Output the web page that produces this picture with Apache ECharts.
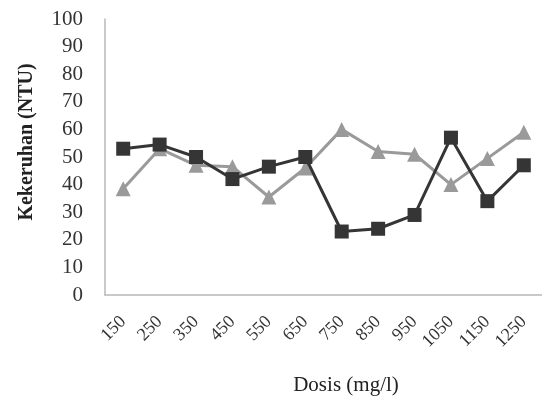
<!DOCTYPE html>
<html><head><meta charset="utf-8">
<script src="https://cdn.jsdelivr.net/npm/echarts@6/dist/echarts.min.js"></script>
<style>html,body{margin:0;padding:0;background:#fff}#c{width:542px;height:401px}</style>
</head><body><div id="c"></div>
<script>
const categories = ['150','250','350','450','550','650','750','850','950','1050','1150','1250'];
const seriesSquare = [53, 54.5, 50, 42, 46.5, 50, 23, 24, 29, 57, 34, 47];
const seriesTriangle = [38.5, 53, 47, 46.5, 35.5, 46, 60, 52, 51, 40, 49.5, 59];
const yTicks = {min: 0, max: 100, interval: 10};

const chart = echarts.init(document.getElementById('c'), null, {renderer: 'canvas'});
const font = 'Liberation Serif';
chart.setOption({
  animation: false,
  backgroundColor: '#fff',
  grid: {left: 105, right: -7, top: 19, bottom: 106, containLabel: false},
  xAxis: {
    type: 'category', data: categories, boundaryGap: true,
    axisLine: {lineStyle: {color: '#b8b8b8', width: 1.5}},
    axisTick: {show: false},
    axisLabel: {rotate: 45, color: '#333', fontFamily: font, fontSize: 18, margin: 24},
    name: 'Dosis (mg/l)', nameLocation: 'middle', nameGap: 80,
    nameTextStyle: {color: '#222', fontFamily: font, fontSize: 21, padding: [0,0,0,45]}
  },
  yAxis: {
    type: 'value', min: yTicks.min, max: yTicks.max, interval: yTicks.interval,
    axisLine: {show: true, lineStyle: {color: '#b8b8b8', width: 1.5}},
    axisTick: {show: false},
    splitLine: {show: false},
    axisLabel: {color: '#333', fontFamily: font, fontSize: 21, margin: 22},
    name: 'Kekeruhan (NTU)', nameLocation: 'middle', nameGap: 68, nameRotate: 90,
    nameTextStyle: {color: '#222', fontFamily: font, fontSize: 20, fontWeight: 'bold', padding: [0,0,0,30]}
  },
  series: [
    {type: 'line', data: seriesTriangle, symbol: 'triangle', symbolSize: 15,
     lineStyle: {color: '#9a9a9a', width: 3}, itemStyle: {color: '#9a9a9a'}, z: 2},
    {type: 'line', data: seriesSquare, symbol: 'rect', symbolSize: 14,
     lineStyle: {color: '#353535', width: 3}, itemStyle: {color: '#353535'}, z: 3}
  ]
});
</script></body></html>
